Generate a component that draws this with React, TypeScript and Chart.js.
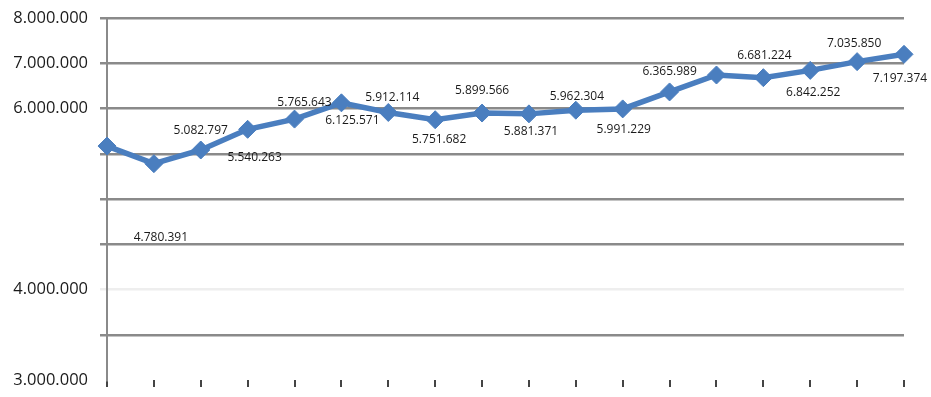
import React, { useEffect, useRef } from "react";
import { Chart, registerables } from "chart.js";

Chart.register(...registerables);

const CATEGORIES = [
  "1", "2", "3", "4", "5", "6", "7", "8", "9",
  "10", "11", "12", "13", "14", "15", "16", "17", "18",
];

const VALUES = [
  5170000, 4780391, 5082797, 5540263, 5765643, 6125571, 5912114, 5751682, 5899566,
  5881371, 5962304, 5991229, 6365989, 6740000, 6681224, 6842252, 7035850, 7197374,
];

// Text shown next to each point ("" = no label)
const POINT_LABELS = [
  "", "4.780.391", "5.082.797", "5.540.263", "5.765.643", "6.125.571", "5.912.114",
  "5.751.682", "5.899.566", "5.881.371", "5.962.304", "5.991.229", "6.365.989", "",
  "6.681.224", "6.842.252", "7.035.850", "7.197.374",
];

// Y-axis tick values and the text printed at them
const Y_TICK_VALUES = [0, 2000000, 6000000, 7000000, 8000000];
const Y_TICK_LABELS = ["3.000.000", "4.000.000", "6.000.000", "7.000.000", "8.000.000"];

const Y_MIN = 0;
const Y_MAX = 8000000;
const Y_STEP = 1000000;

// label placement styling (pixel offsets relative to point)
const LABEL_DX = [0, 7, 0, 7, 10, 11, 4, 4, 0, 2, 1, 1, 0, 0, 1, 3, -3, -4];
const LABEL_DY = [0, 74, -19, 28, -17, 18, -15, 20, -22, 18, -14, 21, -20, 0, -22, 22, -18, 24];

const labelPlugin = {
  id: "pointLabels",
  afterDatasetsDraw(chart: any) {
    const meta = chart.getDatasetMeta(0);
    const ctx = chart.ctx;
    ctx.save();
    ctx.font = '12px "Open Sans"';
    ctx.fillStyle = "#1a1a1a";
    ctx.textAlign = "center";
    ctx.textBaseline = "middle";
    meta.data.forEach((pt: any, i: number) => {
      const txt = POINT_LABELS[i];
      if (!txt) return;
      ctx.fillText(txt, pt.x + LABEL_DX[i], pt.y + LABEL_DY[i]);
    });
    ctx.restore();
  },
};

export default function App() {
  const ref = useRef<HTMLCanvasElement | null>(null);
  useEffect(() => {
    if (!ref.current) return;
    const chart = new Chart(ref.current, {
      type: "line",
      data: {
        labels: CATEGORIES,
        datasets: [
          {
            data: VALUES,
            borderColor: "#4a7ebf",
            backgroundColor: "#4a7ebf",
            borderWidth: 5.5,
            pointStyle: "rectRot",
            pointRadius: 9,
            pointBorderWidth: 1,
            pointBackgroundColor: "#4a7ebf",
            pointBorderColor: "#4a7ebf",
            tension: 0,
          },
        ],
      },
      options: {
        responsive: false,
        animation: false,
        layout: { padding: { top: 18, right: 27, left: 0, bottom: 0 } },
        plugins: { legend: { display: false }, tooltip: { enabled: false } },
        scales: {
          x: {
            offset: false,
            border: { display: false },
            grid: {
              drawOnChartArea: false,
              drawTicks: true,
              tickLength: 7,
              color: "#444",
              lineWidth: 2,
            },
            ticks: { display: false },
            afterFit: (s: any) => {
              s.height = 17;
              s.paddingLeft = 0;
              s.paddingRight = 0;
            },
          },
          y: {
            min: Y_MIN,
            max: Y_MAX,
            border: { display: true, color: "#8a8a8a", width: 2 },
            grid: {
              tickLength: 7,
              lineWidth: 2.5,
              color: (c: any) => {
                const v = c.tick ? c.tick.value : null;
                if (v === 0) return "rgba(0,0,0,0)";
                if (v === 2000000) return "#eeeeee";
                return "#8a8a8a";
              },
            },
            ticks: {
              stepSize: Y_STEP,
              padding: 12,
              color: "#1a1a1a",
              font: { family: '"Open Sans"', size: 16.5 },
              callback: (v: any) => {
                const i = Y_TICK_VALUES.indexOf(Number(v));
                return i >= 0 ? Y_TICK_LABELS[i] : "";
              },
            },
            afterFit: (s: any) => {
              s.width = 107;
              s.paddingTop = 0;
              s.paddingBottom = 0;
            },
          },
        },
      },
      plugins: [labelPlugin],
    });
    return () => chart.destroy();
  }, []);
  return (
    <div style={{ position: "fixed", left: 0, top: 0, width: 931, height: 397, background: "#fff" }}>
      <canvas ref={ref} width={931} height={397} style={{ width: 931, height: 397 }} />
    </div>
  );
}
